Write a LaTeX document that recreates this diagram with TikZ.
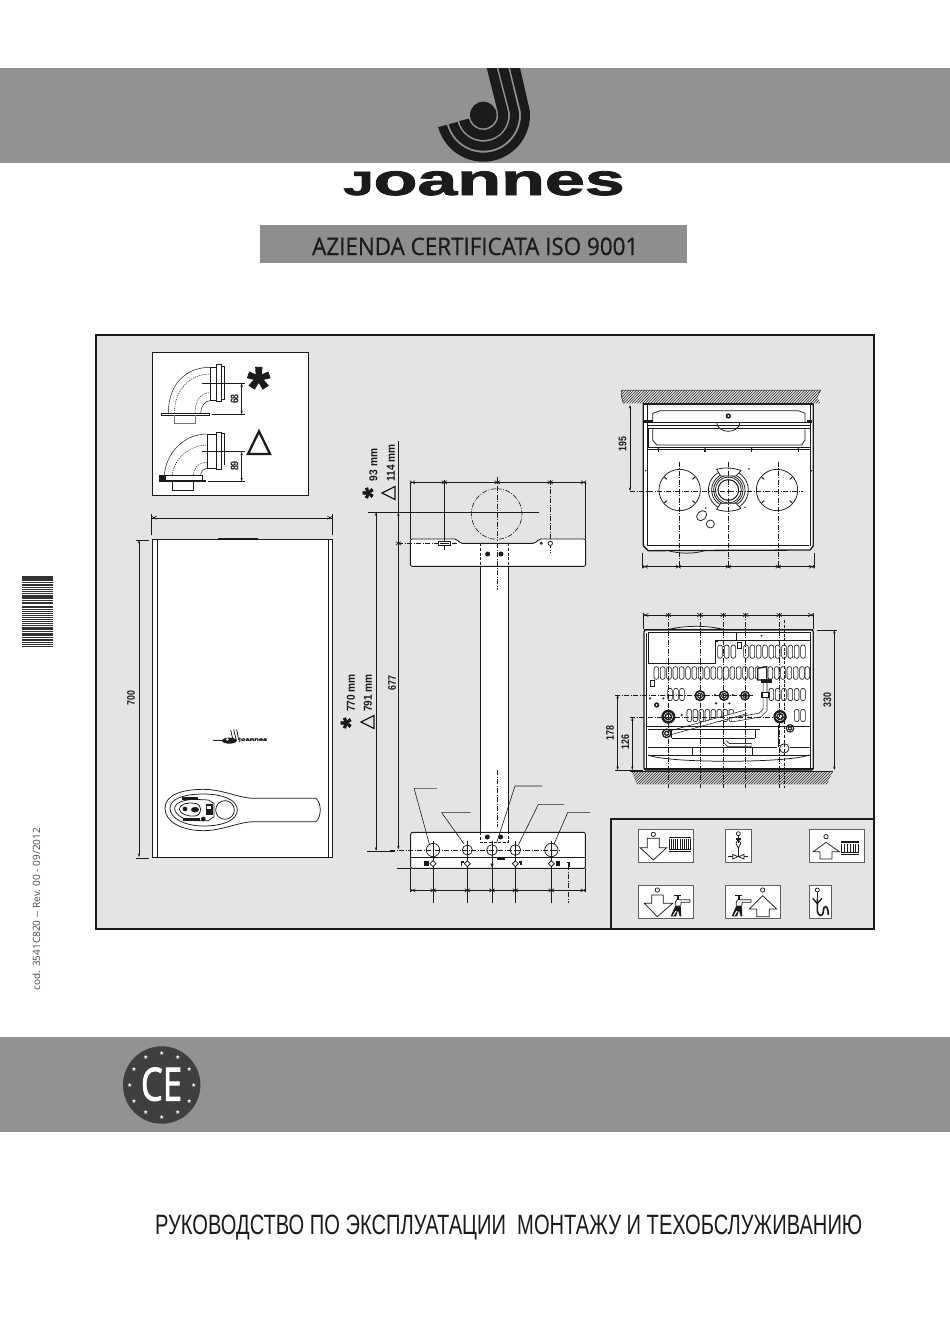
\documentclass[tikz,border=0pt]{standalone}
\usepackage{fontspec}
\usepackage{graphicx}
\setmainfont{Liberation Sans}
\newfontfamily\logofont[FakeBold=1.8]{Liberation Sans Bold}
\newfontfamily\opensansf{Open Sans}
\newfontfamily\certf[FakeBold=0.7]{Open Sans}
\newfontfamily\cef[FakeBold=2.2]{Open Sans}
\newfontfamily\symf{DejaVu Sans}
\usetikzlibrary{arrows.meta,calc}
\definecolor{band}{HTML}{939192}
\definecolor{panel}{HTML}{E4E4E4}
\definecolor{ink}{HTML}{1C1A1B}
\definecolor{cedark}{HTML}{403E3F}
\definecolor{certbox}{HTML}{8F8D8E}
\tikzset{
  zm/.style 2 args={shift={(#1,#2)},scale=0.33333},
  ln/.style={draw=ink,line width=0.75pt},
  thn/.style={draw=ink,line width=0.5pt},
  thk/.style={draw=ink,line width=1.3pt},
  dl/.style={draw=ink,line width=0.6pt},
  dda/.style={draw=ink,line width=0.65pt,dash pattern=on 5pt off 1.5pt on 1pt off 1.5pt},
  dsh/.style={draw=ink,line width=0.65pt,dash pattern=on 3pt off 1.6pt},
  dot/.style={draw=ink,line width=0.5pt,dash pattern=on 1.2pt off 1pt},
  dimarrow/.style={dl,{Stealth[length=3.5pt,width=2.4pt]}-{Stealth[length=3.5pt,width=2.4pt]}},
  endarrow/.style={dl,-{Stealth[length=3.5pt,width=2.4pt]}},
  slotshape/.style={draw=ink,line width=0.65pt,fill=white,rounded corners=2.2pt},
  iconbox/.style={draw=ink!70,line width=0.9pt,fill=white},
  labeltxt/.style={inner sep=0pt,text=ink},
}
\newcommand\dtxt[1]{\fontsize{11}{11}\selectfont\bfseries\scalebox{0.8}[1]{#1}}
\newcommand\mtxt[1]{\fontsize{11.5}{11.5}\selectfont\bfseries\scalebox{0.88}[1]{#1}}
\newcommand\tkx[2]{\draw[dl] (#1-8,#2-5)--(#1+8,#2+5) (#1-8,#2+5)--(#1+8,#2-5);}
\newcommand\logostripe[5]{\fill[ink]
  (#3,68) -- ({483.3+#1*cos(-5)},{115+#1*sin(-5)})
  arc[start angle=-5,end angle=#5,radius=#1]
  -- ({483.3+#2*cos(#5)},{115+#2*sin(#5)})
  arc[start angle=#5,end angle=-5,radius=#2]
  -- (#4,68) -- cycle;}
\newcommand\nut[3]{\fill[ink] (#1,#2) circle (#3);
  \draw[white,line width=0.5pt] (#1,#2) circle (#3*0.62);
  \fill[white] (#1,#2) circle (#3*0.38);
  \draw[ink,line width=0.5pt] (#1,#2) circle (#3*0.38);}
\newcommand\radiatoricon[4]{%
  \fill[ink] (#1,#2+3) rectangle (#3,#4-3);
  \foreach \k in {0,...,10}{\fill[white] ({#1+3+\k*(#3-#1-5)/11},#2+11) rectangle ({#1+4.6+\k*(#3-#1-5)/11},#4-11);}
  \draw[white,line width=0.35pt] (#1,#2+8) -- (#3,#2+8) (#1,#4-8) -- (#3,#4-8);}
\newcommand\tapicon[2]{\begin{scope}[shift={(#1,#2)}]
  \draw[ln,line width=1pt] (-10,-22) -- (12,-22);
  \fill[ink] (-2,-22) rectangle (5,-8);
  \draw[ln] (-2,-8) -- (-6,0) -- (-6,10);
  \draw[ln] (5,-8) -- (38,-8) -- (38,0) -- (12,0) -- (10,10);
  \fill[ink] (-6,10) -- (10,10) -- (12,42) -- (7,42) -- (2,24) -- (-4,42) -- (-20,42) -- cycle;
  \fill[white] (-6,26) -- (-2,26) -- (-11,40) -- (-14,40) -- cycle;
\end{scope}}
\begin{document}
\begin{tikzpicture}[x=1pt,y=1pt,yscale=-1]
\useasboundingbox (0,0) rectangle (950,1344);
\fill[white] (0,0) rectangle (950,1344);
% bands
\fill[band] (0,68) rectangle (950,163);
\fill[band] (0,1037) rectangle (950,1132);
% logo
\fill[ink] (483.3,115) circle (13.3);
\logostripe{15}{25}{486.7}{496.7}{166}
\logostripe{26.7}{35.7}{498.3}{508.3}{165}
\logostripe{37.7}{46.7}{510}{520}{165}
\node[labeltxt,anchor=base] (brand) at (484,195) {\logofont\fontsize{44}{44}\selectfont\scalebox{1.63}[1]{\scalebox{0.76}{J}oannes}};
% certification
\fill[certbox] (260,225) rectangle (687,263);
\node[labeltxt,anchor=base west] (cert) at (312,255) {\resizebox{326pt}{17.5pt}{\certf AZIENDA CERTIFICATA ISO 9001}};
% main panel
\draw[thk,fill=panel,line width=1.8pt] (96,335) rectangle (874,929);
\draw[thk,fill=panel,line width=1.8pt] (611,819) rectangle (874,929);
% inset
\draw[ln,fill=white,line width=1pt] (152,352.5) rectangle (308,495);
\begin{scope}[zm={130}{340}]
  \draw[ln,fill=white] (95,220) rectangle (238,226);
  \draw[draw=ink!60,line width=0.7pt] (133,226) -- (133,250) -- (197,250) -- (197,226);
  \draw[thn] (115,220) .. controls (115,130) and (170,82) .. (240,82);
  \draw[dot] (133,220) .. controls (133,150) and (180,102) .. (240,102);
  \draw[dot] (195,220) .. controls (195,185) and (210,158) .. (240,158);
  \draw[thn] (212,220) .. controls (212,200) and (225,182) .. (240,182);
  \draw[ln,fill=white] (240,82) rectangle (258,182);
  \draw[ln,fill=white] (258,72) rectangle (275,185);
  \draw[ln,fill=white] (275,80) rectangle (283,178);
  \draw[dl] (215,130) -- (345,130) (245,223) -- (345,223);
  \draw[dimarrow] (335,130) -- (335,223);
  \node[labeltxt,rotate=90] (d68) at (314,177) {\dtxt{68}};
  \node[labeltxt] (star1) at (386,142) {\logofont\fontsize{58}{58}\selectfont *};
  % second elbow
  \fill[ink] (88,420) rectangle (227,425);
  \fill[ink] (88,406) rectangle (105,420);
  \draw[ln,fill=white] (105,406) rectangle (218,420);
  \draw[ln] (127,425) rectangle (190,451);
  \draw[thn] (103,406) .. controls (108,340) and (160,282) .. (232,282);
  \draw[dot] (127,406) .. controls (130,360) and (175,315) .. (232,315);
  \draw[dot] (190,406) .. controls (190,385) and (205,367) .. (232,367);
  \draw[thn] (212,406) .. controls (212,395) and (222,385) .. (232,385);
  \draw[ln,fill=white] (232,282) rectangle (260,385);
  \draw[thk] (232,282) -- (232,385);
  \draw[ln,fill=white] (260,277) rectangle (275,388);
  \draw[ln] (275,280) -- (283,280) -- (283,375);
  \draw[dl] (215,335) -- (345,335) (235,424) -- (345,424);
  \draw[dimarrow] (335,335) -- (335,424);
  \node[labeltxt,rotate=90] (d89) at (314,378) {\dtxt{89}};
  \draw[draw=ink,line width=2.3pt,miter limit=10] (387,274) -- (420,342) -- (354,342) -- cycle;
\end{scope}
% front of boiler
\draw[ln,fill=white,line width=1pt] (152,539) rectangle (332.5,857);
\draw[ln] (157,539) -- (157,857) (328,539) -- (328,857);
\draw[thk,line width=1.6pt] (218,538.5) -- (258,538.5);
\draw[dl] (151.5,518) -- (332.5,518);
\draw[dl] (151.5,514) -- (151.5,535) (332.5,514) -- (332.5,535);
\begin{scope}[zm={130}{340}]
  \tkx{72}{533} \tkx{600}{533}
\end{scope}
\draw[dimarrow] (139,540) -- (139,857);
\draw[dl] (136,540) -- (149,540) (136,858.5) -- (149,858.5);
\node[labeltxt,rotate=90] (d700) at (131,698) {\dtxt{700}};
\begin{scope}[zm={140}{700}]
  % small logo
  \fill[ink] (268,122) ellipse (22 and 9);
  \draw[ink,line width=0.8pt] (272,90) -- (280,125) (281,88) -- (289,122) (290,88) -- (296,120);
  \fill[white] (262,118) circle (4);
  \draw[ink,line width=1.2pt] (220,122) -- (245,122);
  \node[labeltxt,anchor=west] (smallbrand) at (296,119) {\logofont\fontsize{4.4}{4.4}\selectfont\scalebox{1.7}[1]{joannes}};
  % control panel
  \draw[ln,fill=white] (75,325) .. controls (75,285) and (125,268) .. (190,268)
     .. controls (250,268) and (295,295) .. (345,295) -- (528,295)
     .. controls (545,310) and (545,350) .. (528,365) -- (345,365)
     .. controls (295,365) and (250,392) .. (190,392)
     .. controls (125,392) and (75,365) .. cycle;
  \draw[ln] (90,325) .. controls (90,295) and (135,282) .. (190,282)
     .. controls (250,282) and (292,300) .. (292,330)
     .. controls (292,360) and (250,378) .. (190,378)
     .. controls (135,378) and (90,355) .. cycle;
  \draw[ln] (104,325) .. controls (104,308) and (135,298) .. (165,298)
     -- (205,300) -- (222,310) -- (222,350) -- (205,362) -- (165,362)
     .. controls (135,362) and (104,345) .. cycle;
  \draw[ln] (255,330) circle (28);
  \draw[ln] (118,327) .. controls (118,312) and (145,306) .. (165,310)
     .. controls (188,312) and (188,345) .. (165,348)
     .. controls (145,350) and (118,342) .. cycle;
  \fill[ink] (135,327) circle (7);
  \fill[ink] (165,329) ellipse (12 and 8);
  \fill[ink] (125,290) rectangle (175,300);
  \fill[ink] (128,355) rectangle (180,364);
  \fill[ink] (198,312) rectangle (218,345);
  \fill[white] (202,318) rectangle (214,328);
  \fill[ink] (190,357) circle (7);
\end{scope}
% bracket: dimension lines
\draw[dl] (398.3,441) -- (398.3,848);
\draw[endarrow] (398.3,600) -- (398.3,512.5);
\draw[endarrow] (398.3,700) -- (398.3,849.5);
\draw[endarrow] (376,600) -- (376,512.5);
\draw[endarrow] (376,700) -- (376,850.5);
\draw[dl] (376,512.5) -- (376,850);
\draw[dl] (367,851) -- (395,851);
\draw[dl] (368,512.3) -- (539,512.3);
\node[labeltxt,rotate=90] (d677) at (392,683) {\dtxt{677}};
\node[labeltxt,rotate=90] (d770) at (351,693) {\mtxt{770 mm}};
\node[labeltxt,rotate=90] (d791) at (368,693) {\mtxt{791 mm}};
\node[labeltxt,rotate=90] (d93) at (373.5,465) {\mtxt{93 mm}};
\node[labeltxt,rotate=90] (d114) at (391,463) {\mtxt{114 mm}};
\node[labeltxt,rotate=90] (star2) at (372.5,493) {\logofont\fontsize{28}{28}\selectfont *};
\node[labeltxt,rotate=90] (star3) at (350.5,723) {\logofont\fontsize{28}{28}\selectfont *};
\draw[draw=ink,line width=1.2pt] (382,493) -- (395,486.5) -- (395,499.5) -- cycle;
\draw[draw=ink,line width=1.2pt] (361,722) -- (374,715.5) -- (374,728.5) -- cycle;
% bracket column
\draw[ln,fill=white,line width=0.9pt] (480.5,566) rectangle (508.3,835);
\begin{scope}[zm={340}{430}]
  \draw[ln,fill=white,line width=0.9pt,rounded corners=2pt] (211,327) -- (350,327) -- (360,340) -- (585,340) -- (597,327) -- (737,327) -- (737,409) -- (211,409) -- cycle;
  \draw[dl] (211,157) -- (737,157);
  \draw[dl] (211,157) -- (211,327) (737,157) -- (737,327) (313,150) -- (313,360);
  \draw[dda] (631,150) -- (631,370);
  \foreach \x in {217,313,472,631,731}{\tkx{\x}{157}}
  \draw[dda] (470,176) arc[start angle=-90,end angle=270,radius=76];
  \draw[dda] (472,140) -- (472,330);
  \draw[dda] (472,340) -- (472,480);
  \draw[dda] (175,340) -- (352,340);
  \tkx{175}{340}
  \draw[dsh] (421,340) -- (421,409) (505,340) -- (505,409);
  \fill[ink] (443,372) circle (7.5);
  \fill[ink] (483,372) circle (7.5);
  \draw[ln,fill=white] (295,334) rectangle (332,346);
  \draw[dl] (300,340) -- (328,340);
  \fill[ink] (344,340) circle (3);
  \draw[ln] (604,340) circle (3);
  \draw[ln,fill=white] (631,340) circle (6.5);
\end{scope}
\begin{scope}[zm={390}{770}]
  \draw[ln,fill=white,line width=0.9pt,rounded corners=2pt] (62,187) rectangle (586,295);
  \draw[thk] (62,262) -- (586,262);
  \draw[dsh] (272,187) -- (272,217) -- (355,217) -- (355,187);
  \fill[ink] (292,201) circle (7.5);
  \fill[ink] (332,201) circle (7.5);
  \draw[dda] (322,0) -- (322,170);
  \draw[dda] (0,241) -- (510,241);
  \draw[ln] (129,240) circle (20) (232,240) circle (15) (306,240) circle (16) (376,240) circle (16) (484,240) circle (20);
  \foreach \x in {130,232,306,376,484}{\draw[dl] (\x,212) -- (\x,400);}
  \draw[dda] (535,285) -- (535,400);
  \draw[dl] (20,295) -- (62,295);
  \draw[dl] (62,295) -- (62,365) (586,295) -- (586,365);
  \draw[dl] (62,361) -- (586,361);
  \foreach \x in {68,130,232,306,376,484,580}{\tkx{\x}{361}}
  % leaders
  \draw[draw=ink!60,line width=0.7pt] (142,54) -- (72,54);
  \draw[dl] (72,54) -- (118,222);
  \draw[dl] (242,128) -- (155,128) -- (222,222);
  \draw[dl] (457,48) -- (375,48) -- (320,218);
  \draw[dl] (522,103) -- (445,103) -- (385,225);
  \draw[dl] (600,128) -- (533,128) -- (492,222);
  % symbols
  \fill[ink] (102,274) rectangle (117,288);
  \foreach \x in {129,232,376,484}{\draw[ln,fill=white] (\x-9,281) -- (\x,272) -- (\x+9,281) -- (\x,290) -- cycle;}
  \draw[thk] (215,288) -- (215,276) -- (222,276);
  \fill[ink] (301,281) -- (311,281) -- (306,292) -- cycle;
  \draw[thk] (388,276) -- (393,276) -- (393,284);
  \fill[ink] (497,274) rectangle (510,288);
  \draw[thk] (530,278) -- (537,278) -- (537,290);
  \fill[ink] (320,263) rectangle (344,270);
\end{scope}
% top view
\begin{scope}[zm={610}{380}]
  \begin{scope}
    \clip (35,30) -- (632,30) -- (622,50) -- (630,70) -- (40,70) -- (33,45) -- cycle;
    \foreach \x in {0,8,...,680}{\draw[ink,line width=0.5pt] (\x,72) -- (\x+42,28);}
  \end{scope}
  \draw[thn] (35,30) -- (632,30) (622,50) -- (632,30) (33,45) -- (35,30) (33,45) -- (40,70);
  \draw[thk,fill=white] (100,72) -- (610,72) -- (610,497) -- (600,510) -- (115,512) -- (100,497) -- cycle;
  \draw[thk,line width=1.6pt] (100,72) -- (610,72);
  \draw[ln] (112,75) -- (112,497) (600,75) -- (600,497);
  \draw[ln] (115,497) -- (597,497);
  \draw[ln] (128,127) -- (128,100) -- (150,92) -- (565,92) -- (585,100) -- (585,127);
  \draw[ln] (320,127) arc[start angle=180,end angle=360,radius=35,y radius=-27];
  \fill[ink] (355,108) circle (8);
  \fill[white] (355,108) circle (3);
  \draw[thk,line width=1.5pt] (112,128) -- (600,128);
  \draw[ln] (112,135) -- (600,135) (112,146) -- (600,146);
  \draw[ln] (116,146) -- (116,203);
  \draw[ln] (128,148) -- (128,180) -- (140,195) -- (575,195) -- (585,180) -- (585,148);
  \draw[ln] (112,203) -- (600,203) (112,208) -- (600,208);
  \foreach \x in {145,285,425,565}{\fill[ink] (\x,208) circle (4); \fill[ink] (\x-2,208) rectangle (\x+2,215);}
  \fill[ink] (98,120) rectangle (128,128);
  \fill[ink] (590,120) rectangle (606,128);
  \draw[ln] (209,330) circle (62) (501,330) circle (62);
  \foreach \x in {209,501}{
    \foreach \a in {40,140,220,320}{\draw[ink,line width=1pt] ($(\x,330)+(\a:50)$) -- ($(\x,330)+(\a:60)$);}
  }
  \draw[ln] (355,330) circle (60) (355,330) circle (50) (355,330) circle (44) (355,330) circle (39) (355,330) circle (31);
  \draw[ln,fill=white] (320,268) .. controls (340,262) and (370,262) .. (393,272) -- (378,288) -- (332,288) -- cycle;
  \draw[ln,fill=white] (320,388) .. controls (340,396) and (370,396) .. (393,385) -- (378,370) -- (332,370) -- cycle;
  \draw[ln] (355,330) circle (31);
  \draw[ln,rotate around={-45:(275,407)}] (275,407) ellipse (17 and 13);
  \draw[ln] (301,432) circle (12);
  \foreach \p in {(287,384),(417,267),(405,382),(107,272),(604,272)}{\fill[ink] \p circle (2.5);}
  \draw[dda] (209,245) -- (209,565) (355,245) -- (355,565) (505,245) -- (505,565);
  \draw[dda] (60,333) -- (580,333);
  \draw[ln] (175,512) .. controls (210,522) and (250,522) .. (285,512);
  \draw[dl] (97,518) -- (97,565) (613,518) -- (613,565);
  \draw[dl] (97,560) -- (613,560);
  \foreach \x in {105,205,355,505,605}{\tkx{\x}{560}}
  \draw[dimarrow] (60,75) -- (60,333);
  \node[labeltxt,rotate=90] (d195) at (38,193) {\dtxt{195}};
\end{scope}
% bottom view
\begin{scope}[zm={600}{600}]
  \begin{scope}
    \clip (95,515) -- (698,515) -- (682,553) -- (110,553) -- cycle;
    \foreach \x in {50,58,...,700}{\draw[ink,line width=0.5pt] (\x,556) -- (\x+44,512);}
  \end{scope}
  \draw[thk,line width=1.5pt] (90,514) -- (700,514);
  \draw[ln,fill=white] (205,88) .. controls (260,76) and (320,76) .. (370,88) -- cycle;
  \draw[thk,fill=white,rounded corners=2pt] (132,90) rectangle (640,510);
  \draw[ln] (145,98) -- (145,190) -- (345,190) -- (345,122) -- (632,122) -- (632,98) -- (145,98);
  \draw[ln] (132,88) -- (640,88);
  \draw[ln] (140,98) -- (140,505) (632,98) -- (632,505);
  \fill[ink] (345,122) rectangle (355,126);
  \draw[ln] (410,98) -- (410,122);
  \draw[ln] (412,128) rectangle (424,145);
  \fill[ink] (485,107) circle (3);
  \foreach \x in {360,380,400,438,457,476,495,514,533,552,571,590,609}{\draw[slotshape] (\x-7,135) rectangle (\x+7,175);}
  \foreach \x in {169,188,207,226,245,264,283,302,321,340,359,378,397,416,435,454,473,492,511,530,549,568,587,606,622}{\draw[slotshape] (\x-7,200) rectangle (\x+7,238);}
  \foreach \x in {210,228,246,514,533,552,571,590,609}{\draw[slotshape] (\x-7,265) rectangle (\x+7,302);}
  \foreach \x in {268,286,304,322,340,358,376,394,590,609}{\draw[slotshape] (\x-7,328) rectangle (\x+7,365);}
  \draw[ln] (150,240) rectangle (164,260);
  \draw[thk,fill=white] (473,205) -- (500,200) -- (500,240) -- (473,240) -- cycle;
  % pipes
  \draw[draw=ink,line width=4.5pt] (205,400) -- (440,335);
  \draw[draw=white,line width=3.2pt] (205,400) -- (440,335);
  \draw[draw=ink,line width=4.5pt] (395,360) -- (480,345) -- (495,330) -- (495,245);
  \draw[draw=white,line width=3.2pt] (395,360) -- (480,345) -- (495,330) -- (495,245);
  \draw[draw=ink,line width=4.5pt] (540,375) -- (540,440);
  \draw[draw=white,line width=3pt] (540,375) -- (540,440);
  \draw[draw=ink,line width=4pt] (375,425) -- (385,435) -- (455,435);
  \draw[draw=white,line width=2.5pt] (375,425) -- (385,435) -- (455,435);
  \nut{205}{350}{21}
  \nut{300}{287}{17}
  \nut{372}{287}{16}
  \nut{435}{287}{15}
  \nut{540}{350}{20}
  \nut{200}{400}{15}
  \nut{570}{385}{13}
  \fill[ink] (483,238) rectangle (515,250);
  \fill[ink] (483,275) rectangle (510,295);
  \fill[white] (488,280) rectangle (505,290);
  \fill[ink] (170,315) circle (8);
  \fill[white] (170,315) circle (3);
  \draw[ln,fill=white] (553,445) circle (14);
  \foreach \p in {(150,295),(190,295),(245,345),(345,285),(398,285),(348,310),(388,310)}{\fill[ink] \p circle (3.5);}
  % lower chamber
  \draw[thk] (140,380) -- (632,380);
  \draw[ln] (145,388) -- (480,388) (215,415) -- (465,415) (145,442) -- (530,442) (570,442) -- (630,442);
  \draw[ln] (215,388) -- (215,415) (465,388) -- (465,415);
  \draw[ln] (277,442) -- (277,465) -- (458,465) -- (458,442);
  \draw[ln] (145,465) .. controls (200,490) and (560,490) .. (628,465);
  \draw[ln] (145,465) -- (630,465);
  \fill[ink] (132,505) rectangle (640,510);
  \draw[dda] (205,38) -- (205,565) (300,38) -- (300,565) (370,38) -- (370,565) (437,38) -- (437,565) (538,38) -- (538,565);
  \draw[dsh] (553,60) -- (553,565);
  \draw[dl] (130,40) -- (130,88) (640,40) -- (640,88);
  \draw[dl] (130,45) -- (640,45);
  \foreach \x in {137,205,300,370,437,538,633}{\tkx{\x}{45}}
  \draw[dda] (45,285) -- (460,285);
  \draw[dda] (90,352) -- (560,352);
  \draw[dl] (650,90) -- (712,90) (45,511) -- (130,511);
  \draw[dimarrow] (703,90) -- (703,510);
  \draw[dimarrow] (53,285) -- (53,510);
  \draw[dimarrow] (97,352) -- (97,510);
  \node[labeltxt,rotate=90] (d330) at (682,300) {\dtxt{330}};
  \node[labeltxt,rotate=90] (d178) at (30,398) {\dtxt{178}};
  \node[labeltxt,rotate=90] (d126) at (76,425) {\dtxt{126}};
\end{scope}
% legend
\begin{scope}[zm={610}{815}]
  \draw[iconbox] (85,42) rectangle (250,142);
  \draw[ln] (130,58) circle (6.5);
  \draw[ln] (112,70) -- (148,70) -- (148,98) -- (170,98) -- (130,135) -- (90,98) -- (112,98) -- cycle;
  \radiatoricon{178}{62}{243}{113}
  \draw[iconbox] (347,42) rectangle (425,142);
  \draw[ln] (385,56) circle (6);
  \draw[ln] (385,62) -- (385,70);
  \draw[thk] (378,72) -- (392,72) (385,72) -- (385,85);
  \draw[ln] (385,72) -- (378,85) -- (385,100) -- (392,85) -- cycle;
  \draw[thk] (385,100) -- (385,122);
  \draw[ln] (355,125) -- (368,125) (402,125) -- (415,125);
  \draw[ln] (368,118) -- (368,132) -- (384,125) -- cycle (402,118) -- (402,132) -- (386,125) -- cycle;
  \draw[iconbox] (597,42) rectangle (763,142);
  \draw[ln] (648,65) circle (6.5);
  \draw[ln] (648,82) -- (688,110) -- (666,110) -- (666,132) -- (630,132) -- (630,110) -- (610,110) -- cycle;
  \radiatoricon{692}{75}{748}{122}
  \draw[iconbox] (85,210) rectangle (250,310);
  \draw[ln] (142,225) circle (6.5);
  \draw[ln] (125,240) -- (160,240) -- (160,265) -- (188,265) -- (142,305) -- (103,265) -- (125,265) -- cycle;
  \tapicon{202}{262}
  \draw[iconbox] (347,210) rectangle (512,310);
  \draw[ln] (458,225) circle (6.5);
  \draw[ln] (458,242) -- (500,282) -- (478,282) -- (478,305) -- (440,305) -- (440,282) -- (418,282) -- cycle;
  \tapicon{385}{262}
  \draw[iconbox] (597,210) rectangle (665,310);
  \draw[ln] (622,225) circle (6);
  \draw[ln] (622,231) -- (622,250);
  \draw[thk] (608,250) -- (622,266) -- (636,250);
  \draw[draw=ink,line width=1.6pt] (622,250) -- (622,284) .. controls (622,306) and (640,306) .. (640,290) .. controls (640,268) and (655,268) .. (655,300);
\end{scope}
% barcode
\foreach \y/\h in {576/4.5,581.5/1,583.6/2.5,587/1,589/1,591.2/0.8,593/1,595/3.5,599.5/1,601.7/0.7,603.4/1,605.6/0.7,607.3/0.7,609/1.2,611.4/0.8,613.2/0.7,615/1,617/1.3,619.3/0.7,621/1.2,623/1,625/0.7,627/2.5,630.5/1,632.5/3,636.5/1,638.5/2.5,642/0.8,644/1,645.6/1}{
  \fill[ink!90] (21.7,\y) rectangle (52.7,\y+\h);
}
\node[labeltxt,rotate=90,text=ink!80] (code) at (36.5,909) {\resizebox{162pt}{!}{\opensansf cod. 3541C820 -- Rev. 00 - 09/2012}};
% CE mark
\fill[cedark] (161.7,1085) circle (38.7);
\foreach \a in {0,30,...,330}{\node[inner sep=0pt,text=white] (ceS\a) at ($(161.7,1085)+(\a:32)$) {\symf\fontsize{6}{6}\selectfont ★};}
\node[labeltxt,text=white,anchor=base] (ce) at (161.5,1100.5) {\resizebox{41pt}{33pt}{\cef CE}};
% title
\node[labeltxt,anchor=base west] (title) at (155,1234) {\resizebox{707pt}{19.5pt}{РУКОВОДСТВО ПО ЭКСПЛУАТАЦИИ~~МОНТАЖУ И ТЕХОБСЛУЖИВАНИЮ}};
\end{tikzpicture}
\end{document}
